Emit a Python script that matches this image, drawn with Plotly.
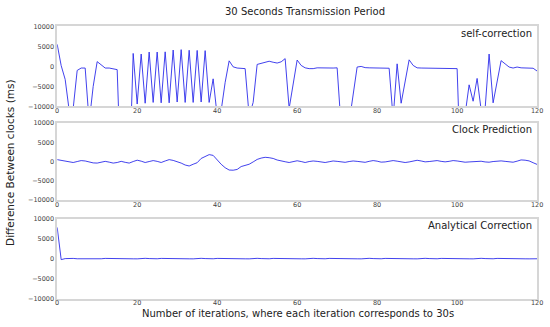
import plotly.graph_objects as go
from plotly.subplots import make_subplots

iterations = list(range(121))

self_correction = [
    5530, 200, -3250, -11000, -10500, -1000, -400, -400, -14000, -5000,
    1200, 400, -400, -400, -600, -800, -30000, -30000, -30000, 3250,
    -9400, 3100, -9200, 3600, -9000, 3600, -9100, 3650, -9100, 4100,
    -8900, 4200, -9000, 4050, -9000, 4000, -8900, 3950, -9000, -3100,
    -12300, -11000, -4000, 1400, -100, -400, -400, -550, -12400, -9000,
    500, 800, 1000, 1300, 1050, 850, 1150, 1950, -10500, -4500,
    1600, 250, -350, -550, -550, -350, -400, -350, -350, -400,
    -350, -30000, -30000, -14000, -7000, -150, 0, -300, -350, -350,
    -400, -400, -400, -450, -13000, 650, -9200, -3900, 1650, 250,
    -350, -400, -400, -400, -380, -400, -400, -420, -400, -400,
    -550, -30000, -12000, -4600, -8700, -3000, -10800, -10500, 3100, -9100,
    -3800, 1450, 650, -150, -400, -150, -350, -400, -400, -450,
    -1150,
]

clock_prediction = [
    500, 300, 0, -200, -250, 0, 250, 150, -100, -350,
    -400, -150, 50, -150, -400, -250, 50, -200, -400, 0,
    350, 100, -250, 0, 250, 50, -250, 150, 500, 300,
    0, -400, -900, -1150, -700, -300, 800, 1200, 1800, 1600,
    400, -700, -1600, -2200, -2250, -2050, -1300, -1000, -700, -100,
    550, 900, 1100, 1000, 800, 400, 100, -50, -250, -50,
    200, 0, -250, 0, 150, 50, -150, -250, -50, 150,
    50, -100, -200, 0, 150, 50, -150, -200, 50, 250,
    100, -150, -100, 100, 250, 100, -100, -250, -100, 150,
    330, 150, -80, 0, 150, 250, 50, -80, 50, 250,
    150, -50, -170, -100, 0, 50, 80, -100, -170, 0,
    150, 170, 50, -100, -170, 100, 420, 350, 170, -300,
    -750,
]

analytical_correction = [
    7800, -250, 0, 80, 50, -40, -60, 40, 70, 0,
    -60, -40, 50, 60, -20, -70, 0, 60, 40, -50,
    -60, 30, 70, 10, -60, -40, 50, 60, -20, -70,
    0, 60, 40, -50, -60, 30, 70, 10, -60, -40,
    50, 60, -20, -70, 0, 60, 40, -50, -60, 30,
    70, 10, -60, -40, 50, 60, -20, -70, 0, 60,
    40, -50, -60, 30, 70, 10, -60, -40, 50, 60,
    -20, -70, 0, 60, 40, -50, -60, 30, 70, 10,
    -60, -40, 50, 60, -20, -70, 0, 60, 40, -50,
    -60, 30, 70, 10, -60, -40, 50, 60, -20, -70,
    0, 60, 40, -50, -60, 30, 70, 10, -60, -40,
    50, 60, -20, -70, 0, 60, 40, -50, -60, 30,
    -40,
]

panel_names = ["self-correction", "Clock Prediction", "Analytical Correction"]
series = [self_correction, clock_prediction, analytical_correction]

W, H = 550, 327
x_dom = [56 / W, 543 / W]
y_pix = [(23, 105), (122, 201), (220, 302)]
label_y = [30, 128.5, 227]

fig = make_subplots(rows=3, cols=1)
FONT = "DejaVu Sans"
LINE = "rgba(45,45,235,0.9)"
FRAME = "#d6d6d6"

for k, (vals, name) in enumerate(zip(series, panel_names)):
    fig.add_trace(go.Scatter(x=iterations, y=vals, mode="lines",
                             line=dict(color=LINE, width=1),
                             showlegend=False, hoverinfo="skip"),
                  row=k + 1, col=1)
    top, bot = y_pix[k]
    xa = "xaxis" if k == 0 else f"xaxis{k+1}"
    ya = "yaxis" if k == 0 else f"yaxis{k+1}"
    fig.layout[xa].update(domain=x_dom, range=[0, 120], dtick=20, tick0=0,
                          showgrid=False, zeroline=False, showline=True, mirror=True,
                          linecolor=FRAME, linewidth=1.5, ticks="",
                          ticklabelstandoff=-3,
                          tickfont=dict(family=FONT, size=6.5, color="#444"))
    fig.layout[ya].update(domain=[1 - bot / H, 1 - top / H], range=[-10000, 10000],
                          dtick=5000, tick0=0, tickformat="d",
                          showgrid=False, zeroline=False, showline=True, mirror=True,
                          linecolor=FRAME, linewidth=1.5, ticks="",
                          tickfont=dict(family=FONT, size=6.5, color="#444"))
    fig.add_annotation(x=540 / W, y=1 - label_y[k] / H, xref="paper", yref="paper",
                       text=name, showarrow=False, xanchor="right", yanchor="middle",
                       font=dict(family=FONT, size=10, color="#222"))

fig.add_annotation(x=307 / W, y=1 - 8 / H, xref="paper", yref="paper",
                   text="30 Seconds Transmission Period", showarrow=False,
                   xanchor="center", yanchor="middle",
                   font=dict(family=FONT, size=10, color="#222"))
fig.add_annotation(x=300 / W, y=1 - 317 / H, xref="paper", yref="paper",
                   text="Number of iterations, where each iteration corresponds to 30s",
                   showarrow=False, xanchor="center", yanchor="middle",
                   font=dict(family=FONT, size=10, color="#222"))
fig.add_annotation(x=8 / W, y=1 - 163 / H, xref="paper", yref="paper",
                   text="Difference Between clocks (ms)", showarrow=False, textangle=-90,
                   xanchor="center", yanchor="middle",
                   font=dict(family=FONT, size=10.5, color="#222"))

fig.update_layout(width=W, height=H, margin=dict(l=0, r=0, t=0, b=0),
                  paper_bgcolor="white", plot_bgcolor="white",
                  font=dict(family=FONT))

fig.write_html("out.html",
               config={"displayModeBar": False},
               post_script="document.body.style.margin='0px';"
                           "document.body.style.overflow='hidden';")
